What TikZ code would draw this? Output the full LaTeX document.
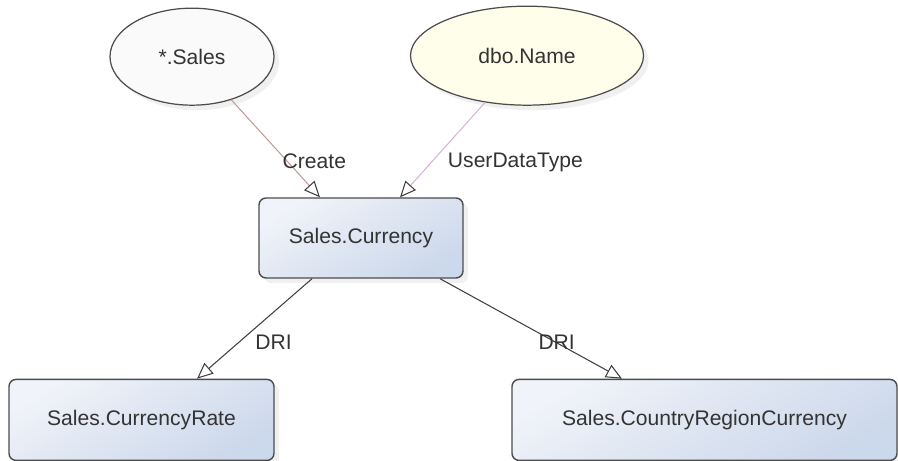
\documentclass[tikz,border=0pt]{standalone}
\usepackage{fontspec}
\setsansfont{Liberation Sans}
\usepackage{tikz}
\usetikzlibrary{shapes.geometric, arrows.meta, positioning, shadows}
\usepackage{xcolor}

\begin{document}
\begin{tikzpicture}[
    node distance=2cm,
    schemanode/.style={draw=black!70, ellipse, line width=0.7pt, text=black!80, font=\sffamily\fontsize{12}{14}\selectfont, drop shadow={opacity=0.12, shadow xshift=0.1cm, shadow yshift=-0.1cm}},
    tablebox/.style={draw=black!70, rectangle, rounded corners=4pt, line width=0.8pt, minimum height=1.6cm, text=black!80, font=\sffamily\fontsize{12}{14}\selectfont, top color={rgb,255:red,240;green,243;blue,249}, bottom color={rgb,255:red,204;green,216;blue,235}, shading angle=30, drop shadow={opacity=0.12, shadow xshift=0.1cm, shadow yshift=-0.1cm}},
    dep/.style={draw, line width=0.6pt, -{Triangle[open, length=0.32cm, width=0.28cm, color=black!75]}},
    lbl/.style={anchor=west, inner sep=0pt, text=black!80, font=\sffamily\fontsize{12}{14}\selectfont}
]

\useasboundingbox (0,0) rectangle (17.96,-9.22);

\node[tablebox, minimum width=4.08cm] (cur) at (7.22,-4.76) {Sales.Currency};
\node[schemanode, fill=black!2, minimum width=3.28cm, minimum height=1.94cm, above=1.83cm of cur, xshift=-3.38cm] (sales) {*.Sales};
\node[schemanode, fill=yellow!8, minimum width=4.66cm, minimum height=1.98cm, above=1.83cm of cur, xshift=3.32cm] (dbo) {dbo.Name};
\node[tablebox, minimum width=5.3cm, minimum height=1.62cm, below=2cm of cur, xshift=-4.39cm] (rate) {Sales.CurrencyRate};
\node[tablebox, minimum width=7.7cm, minimum height=1.62cm, below=2cm of cur, xshift=6.87cm] (crc) {Sales.CountryRegionCurrency};

\draw[dep, red!45!black!40!white] (sales) -- node[lbl, pos=0.63, xshift=-0.1cm] {Create} ([xshift=-0.82cm]cur.north);
\draw[dep, violet!30] (dbo) -- node[lbl, pos=0.63, xshift=0.32cm] {UserDataType} ([xshift=0.78cm]cur.north);
\draw[dep, black!75] ([xshift=-0.98cm]cur.south) -- node[lbl, pos=0.64, xshift=0.33cm] {DRI} ([xshift=1.11cm]rate.north);
\draw[dep, black!75] ([xshift=1.58cm]cur.south) -- node[lbl, pos=0.64, xshift=-0.37cm] {DRI} ([xshift=-1.65cm]crc.north);

\end{tikzpicture}
\end{document}
